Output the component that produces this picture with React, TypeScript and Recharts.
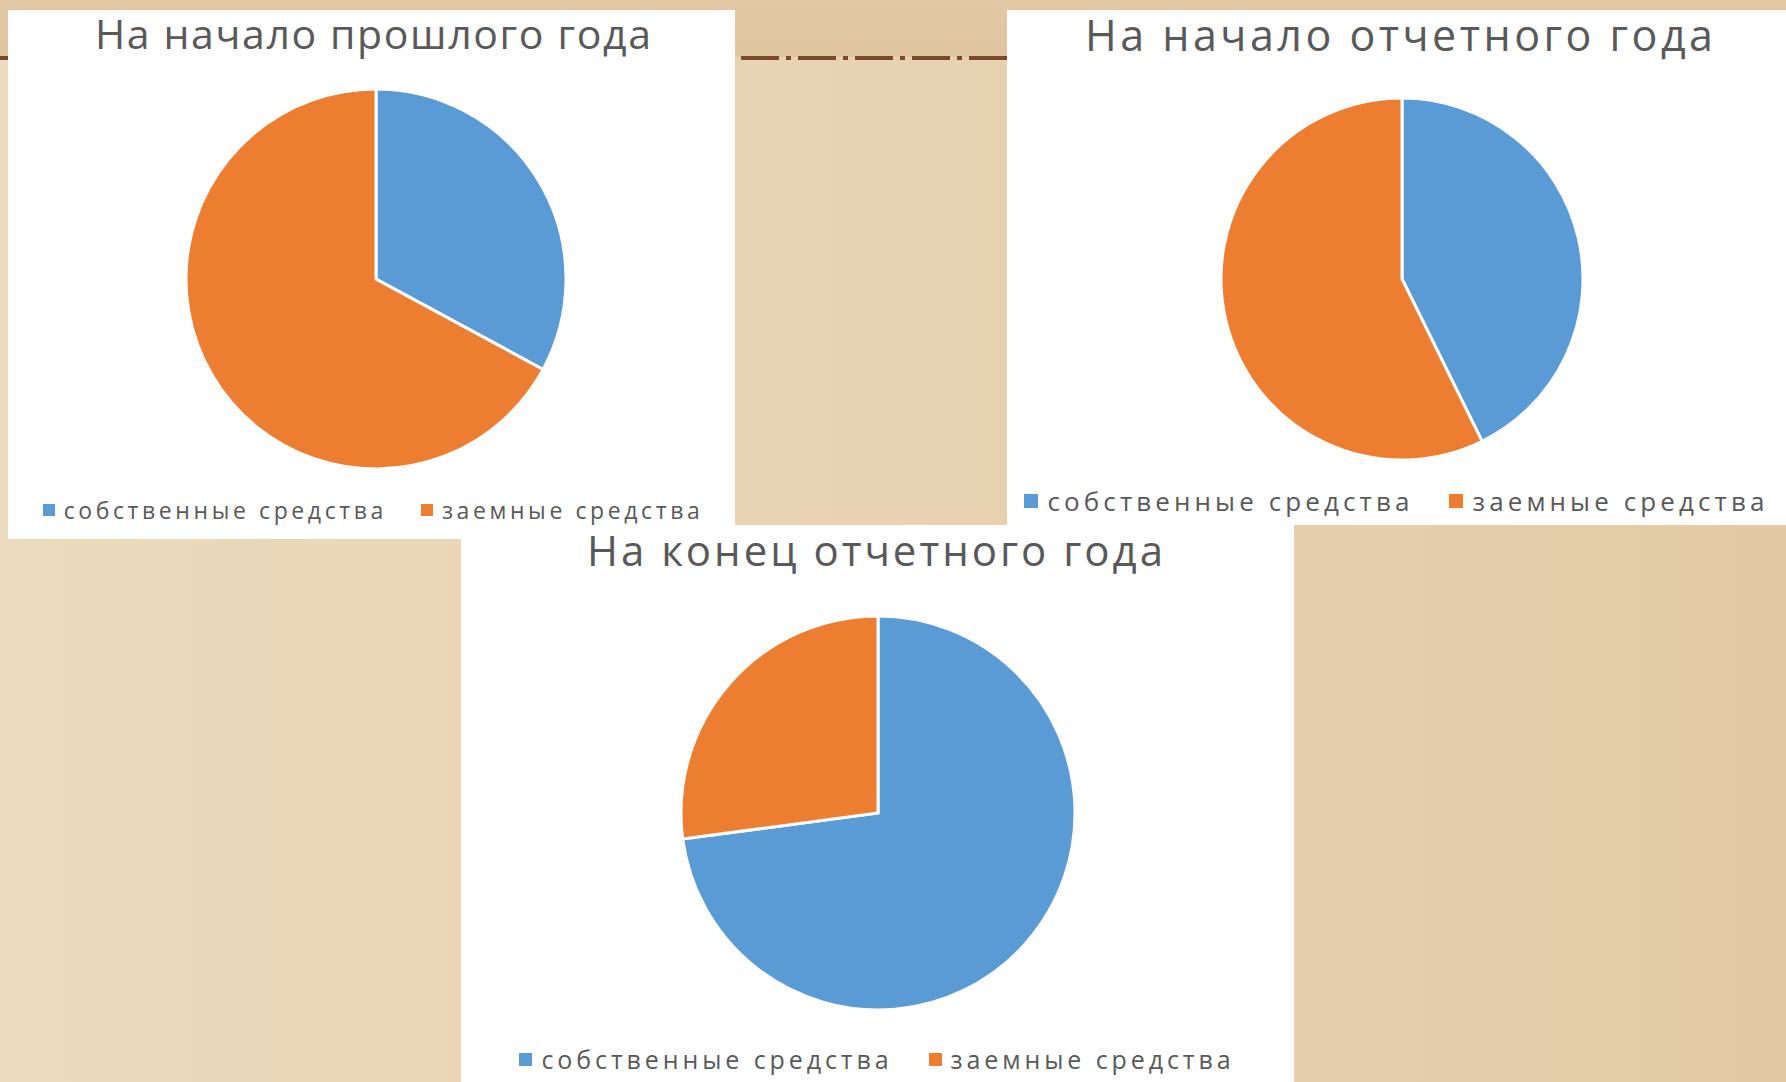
import React from "react";
import { PieChart, Pie, Cell, Legend } from "recharts";

// ---- data ----
const categories = ["собственные средства", "заемные средства"];
const prevYearStart = [32.9, 67.1];
const reportYearStart = [42.7, 57.3];
const reportYearEnd = [72.9, 27.1];
const titles = ["На начало прошлого года", "На начало отчетного года", "На конец отчетного года"];

const COLORS = ["#5B9BD5", "#ED7D31"];
const FONT = "'Open Sans', 'Noto Sans', sans-serif";
const TEXT_COLOR = "#595959";

const build = (vals: number[]) => categories.map((name, i) => ({ name, value: vals[i] }));

type PanelCfg = {
  title: string;
  values: number[];
  left: number;
  top: number;
  width: number;
  height: number;
  cx: number;
  cy: number;
  r: number;
  titleX: number;
  titleY: number;
  titleW: number;
  titleSize: number;
  legendTop: number;
  legendLeft: number;
  legendWidth: number;
  legendFont: number;
  legendSpacing: number;
  legendGap: number;
  iconSize: number;
};

const panels: PanelCfg[] = [
  {
    title: titles[0], values: prevYearStart,
    left: 8, top: 10, width: 727, height: 529,
    cx: 368, cy: 269, r: 190,
    titleX: 365, titleY: 39, titleW: 556, titleSize: 41,
    legendTop: 484, legendLeft: 10, legendWidth: 710,
    legendFont: 23, legendSpacing: 3.6, legendGap: 34, iconSize: 12,
  },
  {
    title: titles[1], values: reportYearStart,
    left: 1007, top: 10, width: 779, height: 515,
    cx: 395, cy: 269, r: 181,
    titleX: 392, titleY: 41, titleW: 628, titleSize: 43,
    legendTop: 475, legendLeft: 0, legendWidth: 779,
    legendFont: 26, legendSpacing: 4.1, legendGap: 36, iconSize: 14,
  },
  {
    title: titles[2], values: reportYearEnd,
    left: 461, top: 525, width: 833, height: 557,
    cx: 417, cy: 288, r: 197,
    titleX: 414, titleY: 41, titleW: 576, titleSize: 42,
    legendTop: 518, legendLeft: 10, legendWidth: 812,
    legendFont: 25, legendSpacing: 3.9, legendGap: 36, iconSize: 13,
  },
];

const makeLegend = (p: PanelCfg) => (props: any) => {
  const payload = [...(props.payload || [])].sort(
    (a: any, b: any) => categories.indexOf(a.value) - categories.indexOf(b.value)
  );
  return (
    <div
      style={{
        display: "flex",
        justifyContent: "center",
        alignItems: "center",
        width: p.legendWidth,
        whiteSpace: "nowrap",
      }}
    >
      {payload.map((e: any, i: number) => (
        <span
          key={i}
          style={{ display: "inline-flex", alignItems: "center", marginLeft: i === 0 ? 0 : p.legendGap }}
        >
          <span
            style={{
              display: "inline-block",
              width: p.iconSize,
              height: p.iconSize,
              background: e.color,
              marginRight: 9,
            }}
          />
          <span
            style={{
              fontFamily: FONT,
              fontSize: p.legendFont,
              letterSpacing: p.legendSpacing,
              color: TEXT_COLOR,
              lineHeight: "32px",
            }}
          >
            {e.value}
          </span>
        </span>
      ))}
    </div>
  );
};

function Panel({ p }: { p: PanelCfg }) {
  const data = build(p.values);
  return (
    <div
      style={{
        position: "absolute",
        left: p.left,
        top: p.top,
        width: p.width,
        height: p.height,
        background: "#ffffff",
      }}
    >
      <PieChart width={p.width} height={p.height} margin={{ top: 0, right: 0, bottom: 0, left: 0 }}>
        <Pie
          data={data}
          dataKey="value"
          nameKey="name"
          cx={p.cx}
          cy={p.cy}
          outerRadius={p.r}
          startAngle={90}
          endAngle={-270}
          stroke="#ffffff"
          strokeWidth={3}
          isAnimationActive={false}
          legendType="square"
        >
          {data.map((_, i) => (
            <Cell key={i} fill={COLORS[i]} />
          ))}
        </Pie>
        <Legend
          verticalAlign="bottom"
          content={makeLegend(p)}
          wrapperStyle={{
            position: "absolute",
            top: p.legendTop,
            left: p.legendLeft,
            bottom: "auto",
            width: p.legendWidth,
          }}
        />
      </PieChart>
      <svg
        width={p.width}
        height={90}
        style={{ position: "absolute", left: 0, top: -10, pointerEvents: "none", overflow: "visible" }}
      >
        <text
          x={p.titleX}
          y={p.titleY + 10}
          textAnchor="middle"
          fontFamily={FONT}
          fontSize={p.titleSize}
          fill={TEXT_COLOR}
          textLength={p.titleW}
          lengthAdjust="spacing"
        >
          {p.title}
        </text>
      </svg>
    </div>
  );
}

export default function App() {
  return (
    <div
      style={{
        position: "absolute",
        left: 0,
        top: 0,
        width: 1786,
        height: 1082,
        overflow: "hidden",
        background: "linear-gradient(to right, #ebdabd 0%, #e7d3b1 50%, #e2caa6 100%)",
      }}
    >
      <div
        style={{
          position: "absolute",
          left: 0,
          top: 0,
          width: 1786,
          height: 57,
          background: "linear-gradient(to bottom, #e2c9a5 0%, #dfc59f 100%)",
        }}
      />
      <svg width={1786} height={70} style={{ position: "absolute", left: 0, top: 0 }}>
        <line
          x1={0}
          y1={58}
          x2={1786}
          y2={58}
          stroke="#7a4a2a"
          strokeWidth={4}
          strokeDasharray="38 7 5 7"
        />
      </svg>
      {panels.map((p, i) => (
        <Panel key={i} p={p} />
      ))}
    </div>
  );
}
